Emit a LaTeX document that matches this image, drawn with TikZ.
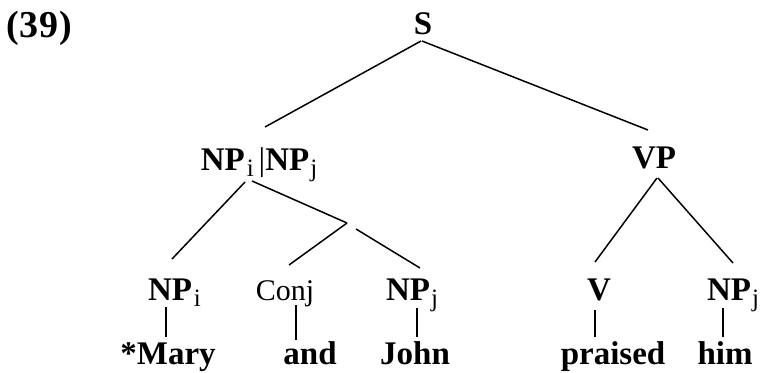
\documentclass[tikz,border=0pt]{standalone}
\usepackage{fontspec}
\setmainfont{Liberation Serif}
\newcommand\mysub[1]{\raisebox{-6pt}{\fontsize{25}{25}\selectfont\mdseries #1}}
\begin{document}
\begin{tikzpicture}[x=1pt,y=-1pt,
  lab/.style={inner sep=0pt,anchor=base,font=\fontsize{33}{36}\selectfont\bfseries},
  wrd/.style={inner sep=0pt,anchor=base,font=\fontsize{33}{36}\selectfont\bfseries},
  branch/.style={line width=1.5pt,black}]
\useasboundingbox (0,0) rectangle (767,372);
\node[inner sep=0pt,anchor=base west,font=\fontsize{38}{40}\selectfont\bfseries] (num) at (6,37) {(\kern1pt3\kern1pt9\kern1pt)};
\node[lab] (S) at (423,34) {S};
\node[lab] (NPij) at (259,170) {NP\kern2pt\mysub{i}\kern5pt\mdseries|\bfseries NP\kern1pt\mysub{j}};
\node[lab] (VP) at (654,168) {VP};
\coordinate (mid) at (347,223);
\node[lab] (NPi) at (170,300) {NP\rlap{\kern2pt\mysub{i}}};
\node[inner sep=0pt,anchor=base,font=\fontsize{30}{32}\selectfont] (Conj) at (285,300) {Conj};
\node[lab] (NPj) at (408,300) {NP\rlap{\kern1pt\mysub{j}}};
\node[lab] (V) at (599,300) {V};
\node[lab] (NPj2) at (729,300) {NP\rlap{\kern1pt\mysub{j}}};
\node[wrd] (Mary) at (168,364) {*Mary};
\node[wrd] (and) at (310,364) {and};
\node[wrd] (John) at (415,364) {John};
\node[wrd] (praised) at (613,364) {praised};
\node[wrd] (him) at (725,364) {him};
\draw[branch] ([xshift=-2pt,yshift=-7pt]S.base) -- ([xshift=6pt,yshift=43pt]NPij.base);
\draw[branch] ([xshift=-1pt,yshift=-7pt]S.base) -- ([xshift=-6pt,yshift=38pt]VP.base);
\draw[branch] ([xshift=-14pt,yshift=-12pt]NPij.base) -- ([xshift=2pt,yshift=41pt]NPi.base);
\draw[branch] ([xshift=-7pt,yshift=-11pt]NPij.base) -- (mid);
\draw[branch] (mid) -- ([xshift=4pt,yshift=35pt]Conj.base);
\draw[branch] ([xshift=9pt,yshift=-6pt]mid) -- ([xshift=12pt,yshift=32pt]NPj.base);
\draw[branch] ([xshift=3pt,yshift=-10pt]VP.base) -- ([xshift=-4pt,yshift=38pt]V.base);
\draw[branch] ([xshift=4pt,yshift=-10pt]VP.base) -- ([xshift=4pt,yshift=37pt]NPj2.base);
\draw[branch] ([xshift=-4pt,yshift=-7pt]NPi.base) -- ([xshift=-2pt,yshift=27pt]Mary.base);
\draw[branch] ([xshift=11pt,yshift=-5pt]Conj.base) -- ([xshift=-14pt,yshift=24pt]and.base);
\draw[branch] ([xshift=9pt,yshift=-8pt]NPj.base) -- ([xshift=2pt,yshift=27pt]John.base);
\draw[branch] ([xshift=-4pt,yshift=-10pt]V.base) -- ([xshift=-18pt,yshift=27pt]praised.base);
\draw[branch] ([xshift=-6pt,yshift=-8pt]NPj2.base) -- ([xshift=-2pt,yshift=27pt]him.base);
\end{tikzpicture}
\end{document}
